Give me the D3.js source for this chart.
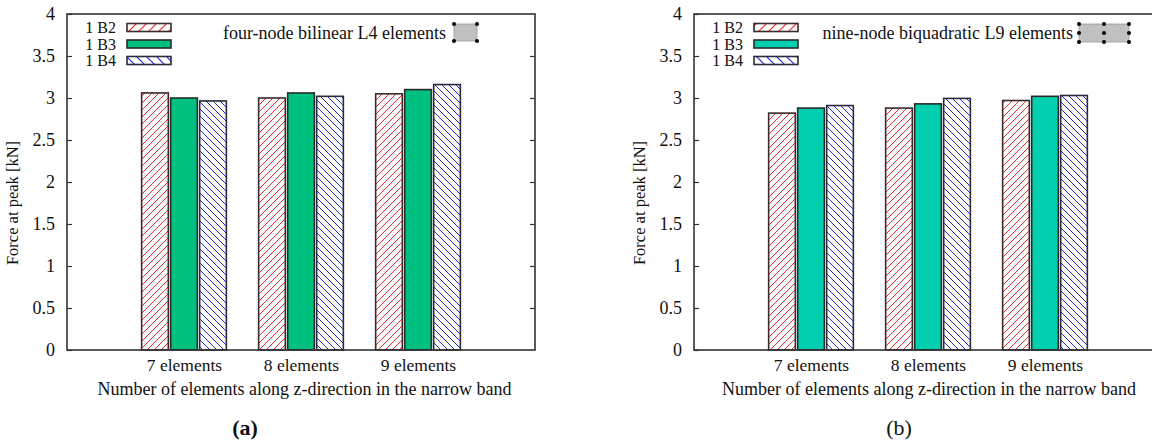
<!DOCTYPE html>
<html>
<head>
<meta charset="utf-8">
<script src="https://cdn.jsdelivr.net/npm/d3@7"></script>
<style>
  html, body { margin: 0; padding: 0; background: #fff; }
  svg { display: block; }
  text { font-family: "Liberation Serif", "Times New Roman", serif; fill: #111; }
</style>
</head>
<body>
<svg id="chart" width="1152" height="441"></svg>
<script>
// ---------------- data ----------------
const categories = ["7 elements", "8 elements", "9 elements"];
const seriesNames = ["1 B2", "1 B3", "1 B4"];
// panel (a): four-node bilinear L4 elements
const valuesA_B2 = [3.06, 3.00, 3.05];
const valuesA_B3 = [3.00, 3.06, 3.10];
const valuesA_B4 = [2.965, 3.02, 3.16];
// panel (b): nine-node biquadratic L9 elements
const valuesB_B2 = [2.82, 2.88, 2.97];
const valuesB_B3 = [2.88, 2.93, 3.02];
const valuesB_B4 = [2.91, 2.995, 3.03];
const yTicks = [0, 0.5, 1, 1.5, 2, 2.5, 3, 3.5, 4];
const yTickLabels = ["0", "0.5", "1", "1.5", "2", "2.5", "3", "3.5", "4"];
const xLabel = "Number of elements along z-direction in the narrow band";
const yLabel = "Force at peak [kN]";
const panelTitles = ["four-node bilinear L4 elements", "nine-node biquadratic L9 elements"];
const captions = ["(a)", "(b)"];

// ---------------- drawing ----------------
const svg = d3.select("#chart");
const defs = svg.append("defs");

function hatch(id, color, dir, s, w) {
  const p = defs.append("pattern").attr("id", id)
    .attr("patternUnits", "userSpaceOnUse").attr("width", s).attr("height", s);
  p.append("rect").attr("width", s).attr("height", s).attr("fill", "#ffffff");
  const d = dir > 0
    ? `M0,${s} L${s},0 M-1,1 L1,-1 M${s - 1},${s + 1} L${s + 1},${s - 1}`
    : `M0,0 L${s},${s} M${s - 1},-1 L${s + 1},1 M-1,${s - 1} L1,${s + 1}`;
  p.append("path").attr("d", d).style("stroke", color).style("stroke-width", w + "px").style("fill", "none");
}
hatch("hatchRed", "rgb(240,40,40)", 1, 7, 1);
hatch("hatchBlue", "rgb(30,40,225)", -1, 7, 1);
hatch("hatchRedL", "rgb(250,40,40)", 1, 10, 1.2);
hatch("hatchBlueL", "rgb(30,40,225)", -1, 10, 1.2);

const frame = "#333";

function panel(cfg) {
  const g = svg.append("g");
  const x = d3.scaleLinear().domain([-1, 3]).range([cfg.left, cfg.left + 468]);
  const y = d3.scaleLinear().domain([0, 4]).range([350, 14]);
  const fills = ["url(#hatchRed)", cfg.green, "url(#hatchBlue)"];
  const legFills = ["url(#hatchRedL)", cfg.green, "url(#hatchBlueL)"];
  const strokes = ["#3a2a2a", "#2a2a2a", "#2a2a3a"];
  const series = [cfg.b2, cfg.b3, cfg.b4];
  const bw = 0.228;

  // bars
  series.forEach((vals, si) => {
    g.selectAll(null).data(vals).enter().append("rect")
      .attr("x", (d, i) => x(i + (si - 1) * 0.248) - x(bw / 2) + x(0))
      .attr("y", d => y(d))
      .attr("width", x(bw) - x(0))
      .attr("height", d => y(0) - y(d))
      .style("fill", fills[si])
      .attr("stroke", strokes[si])
      .attr("stroke-width", 1.6);
  });

  // frame
  g.append("rect").attr("x", x(-1)).attr("y", y(4))
    .attr("width", x(3) - x(-1)).attr("height", y(0) - y(4))
    .attr("fill", "none").attr("stroke", frame).attr("stroke-width", 1.6);

  // y ticks (inward, mirrored)
  const yAxisL = d3.axisLeft(y).tickValues(yTicks).tickSize(-5)
    .tickFormat((d, i) => yTickLabels[i]).tickPadding(12);
  const ga = g.append("g").attr("transform", `translate(${x(-1)},0)`).call(yAxisL);
  ga.select(".domain").remove();
  ga.selectAll(".tick line").attr("stroke", frame).attr("stroke-width", 1.2);
  ga.selectAll(".tick text").attr("font-size", 18).attr("font-family", "Liberation Serif").attr("fill", "#111");
  const yAxisR = d3.axisRight(y).tickValues(yTicks.slice(1, -1)).tickSize(-5).tickFormat("");
  const gr = g.append("g").attr("transform", `translate(${x(3)},0)`).call(yAxisR);
  gr.select(".domain").remove();
  gr.selectAll(".tick line").attr("stroke", frame).attr("stroke-width", 1.2);

  // x category labels
  const xAxis = d3.axisBottom(x).tickValues([0, 1, 2]).tickSize(0)
    .tickFormat((d, i) => categories[i]).tickPadding(9);
  const gx = g.append("g").attr("transform", `translate(0,${y(0)})`).call(xAxis);
  gx.select(".domain").remove();
  gx.selectAll(".tick text").attr("font-size", 17.5).attr("font-family", "Liberation Serif").attr("fill", "#111");

  // axis titles
  g.append("text").attr("x", cfg.xlabCenter).attr("y", 395)
    .attr("text-anchor", "middle").attr("font-size", 18).text(xLabel);
  g.append("text").attr("transform", `translate(${cfg.left - 49},203) rotate(-90)`)
    .attr("text-anchor", "middle").attr("font-size", 16.5).text(yLabel);

  // legend
  seriesNames.forEach((name, si) => {
    const cy = 27.5 + si * 16.5;
    g.append("text").attr("x", cfg.left + 49).attr("y", cy + 5.5)
      .attr("text-anchor", "end").attr("font-size", 16).text(name);
    g.append("rect").attr("x", cfg.left + 60).attr("y", cy - 4)
      .attr("width", 44).attr("height", 8)
      .style("fill", legFills[si]).attr("stroke", strokes[si]).attr("stroke-width", 1.6);
  });

  // panel title + element sketch
  g.append("text").attr("x", cfg.titleEnd).attr("y", 38.5)
    .attr("text-anchor", "end").attr("font-size", 18).text(cfg.title);
  g.append("rect").attr("x", cfg.elX).attr("y", 24).attr("width", cfg.elW).attr("height", cfg.elH)
    .attr("fill", "#c0c0c0").attr("stroke", "#999").attr("stroke-width", 0.8);
  const nodes = [];
  const nx = cfg.nodesPerSide;
  for (let i = 0; i < nx; i++) for (let j = 0; j < nx; j++)
    nodes.push([cfg.elX + i * cfg.elW / (nx - 1), 24 + j * cfg.elH / (nx - 1)]);
  g.selectAll(null).data(nodes).enter().append("circle")
    .attr("cx", d => d[0]).attr("cy", d => d[1]).attr("r", 2).attr("fill", "#000");

  // caption
  g.append("text").attr("x", cfg.capX).attr("y", 435).attr("text-anchor", "middle")
    .attr("font-size", 22).attr("font-weight", cfg.capBold ? "bold" : "normal")
    .attr("font-family", "DejaVu Serif").text(cfg.caption);
}

panel({ left: 67, green: "#00c080", b2: valuesA_B2, b3: valuesA_B3, b4: valuesA_B4,
  title: panelTitles[0], titleEnd: 446, elX: 454, elW: 23, elH: 17, nodesPerSide: 2,
  caption: captions[0], capX: 245, capBold: true, xlabCenter: 304.5 });
panel({ left: 694, green: "#00d0b0", b2: valuesB_B2, b3: valuesB_B3, b4: valuesB_B4,
  title: panelTitles[1], titleEnd: 1073, elX: 1079, elW: 50, elH: 18, nodesPerSide: 3,
  caption: captions[1], capX: 899, capBold: false, xlabCenter: 929 });
</script>
</body>
</html>
